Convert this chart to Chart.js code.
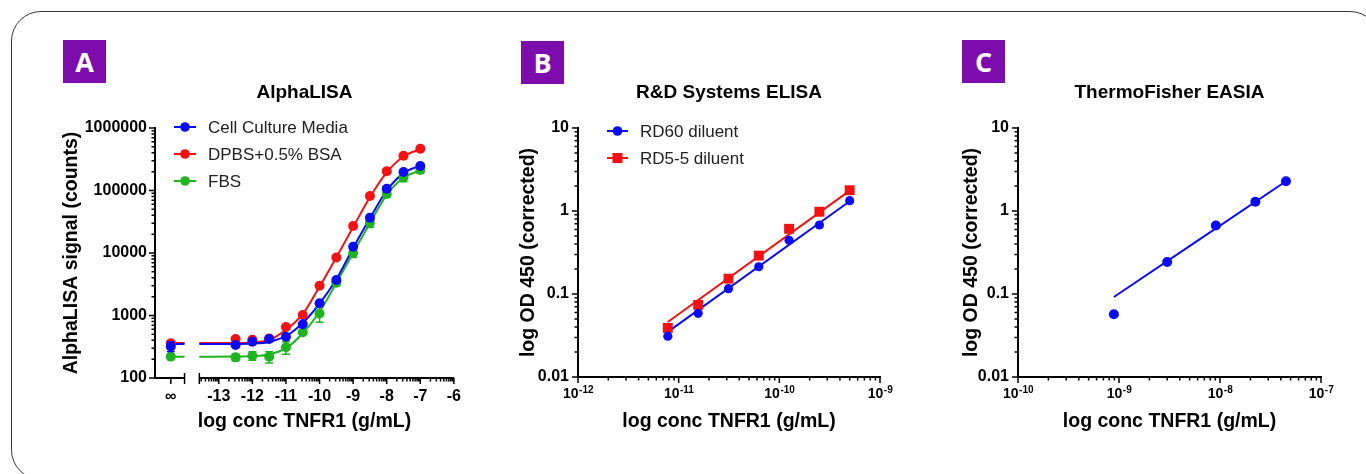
<!DOCTYPE html>
<html>
<head>
<meta charset="utf-8">
<script src="https://cdn.jsdelivr.net/npm/chart.js@4.4.1/dist/chart.umd.min.js"></script>
<style>
    body { margin: 0; width: 1366px; height: 474px; background: #fff; position: relative; overflow: hidden; }
    .frame { position: absolute; left: 11px; top: 11px; width: 1369px; height: 469px; border: 1.5px solid #3a3a3a; border-radius: 30px; box-sizing: border-box; }
    .tag { position: absolute; width: 43px; height: 43px; background: #7d0cac; color: #fff; font: 700 27px 'Open Sans', sans-serif; text-align: center; line-height: 43px; }
    .panel { position: absolute; top: 60px; }
</style>
</head>
<body>
<div class="frame"></div>
<div class="tag" style="left:63px;top:40px">A</div>
<div class="tag" style="left:521px;top:41px">B</div>
<div class="tag" style="left:962px;top:40px">C</div>
<canvas id="chartA" class="panel" style="left:30px" width="440" height="400"></canvas>
<canvas id="chartB" class="panel" style="left:470px" width="440" height="400"></canvas>
<canvas id="chartC" class="panel" style="left:910px" width="440" height="400"></canvas>

<script>
// ---- panel A: AlphaLISA (x = log conc, "∞" column = zero)
const INF_X = -14.43;
const concA = [-12.5, -12, -11.5, -11, -10.5, -10, -9.5, -9, -8.5, -8, -7.5, -7];
const mediaA = [337, 380, 420, 458, 723, 1570, 3700, 12600, 36700, 107000, 198000, 246000];
const bsaA = [421, 410, 430, 655, 1020, 3000, 8500, 27000, 81600, 203000, 360000, 467000];
const fbsA = [214, 227, 219, 310, 540, 1080, 3350, 10000, 30500, 88000, 163000, 213000];
const fbsErrA = [25, 35, 45, 70, 40, 300, 250, 1500, 5000, 10000, 25000, 25000];
const zeroMediaA = 320, zeroMediaErrA = 55;
const zeroBsaA = 360;
const zeroFbsA = 220, zeroFbsErrA = 10;
// fitted curves
const fitXA = [-13.58, -12.5, -12, -11.5, -11, -10.5, -10, -9.5, -9, -8.5, -8, -7.5, -7];
const mediaFitA = [350, 351, 356, 378, 470, 760, 1550, 3800, 12000, 36000, 100000, 190000, 250000];
const bsaFitA = [363, 364, 370, 405, 590, 1050, 2900, 8500, 26000, 78000, 195000, 350000, 460000];
const fbsFitA = [219, 220, 224, 238, 300, 520, 1150, 3300, 10000, 30000, 85000, 160000, 210000];
const infLineEndA = -14.02;
const yTicksA = [100, 1000, 10000, 100000, 1000000];
const xTicksA = [-13, -12, -11, -10, -9, -8, -7, -6];

// ---- panel B: R&D Systems ELISA
const concB = [7.8e-12, 1.5625e-11, 3.125e-11, 6.25e-11, 1.25e-10, 2.5e-10, 5e-10];
const rd60B = [0.031, 0.0585, 0.116, 0.213, 0.444, 0.678, 1.33];
const rd55B = [0.039, 0.074, 0.153, 0.29, 0.61, 0.98, 1.78];
const fitXB = [7.8e-12, 5e-10];
const rd60FitB = [0.035, 1.31];
const rd55FitB = [0.046, 1.76];
const xTicksB = [1e-12, 1e-11, 1e-10, 1e-9];

// ---- panel C: ThermoFisher EASIA
const concC = [8.9e-10, 3.0e-9, 9.1e-9, 2.24e-8, 4.5e-8];
const odC = [0.057, 0.243, 0.67, 1.29, 2.28];
const fitXC = [8.9e-10, 4.5e-8];
const odFitC = [0.092, 2.28];
const xTicksC = [1e-10, 1e-9, 1e-8, 1e-7];

const yTicksBC = [0.01, 0.1, 1, 10];

const BLUE = '#0b0bf5';
const RED = '#f51111';
const GREEN = '#1fb41f';
const FONT = "'Liberation Sans', Arial, sans-serif";
Chart.defaults.font.family = FONT;
Chart.defaults.color = '#000';

const pts = (xs, ys) => xs.map((x, i) => ({ x: x, y: ys[i] }));

function logSteps(min, max) {
    const out = [];
    for (let e = Math.floor(Math.log10(min)); e <= Math.ceil(Math.log10(max)); e++) {
        for (let k = 1; k <= 9; k++) {
            const v = k * Math.pow(10, e);
            if (v >= min * 0.999 && v <= max * 1.001) out.push({ v: v, major: k === 1 });
        }
    }
    return out;
}

// tick marks, broken x axis of A, and 10^n labels of B/C
const prismAxes = {
    id: 'prismAxes',
    afterDraw(chart, args, o) {
        const { ctx, chartArea: a } = chart;
        const x = chart.scales.x, y = chart.scales.y;
        ctx.save();
        ctx.strokeStyle = '#000';
        ctx.lineWidth = 1.5;
        ctx.beginPath();
        logSteps(y.min, y.max).forEach(t => {
            const py = y.getPixelForValue(t.v);
            ctx.moveTo(a.left, py);
            ctx.lineTo(a.left - (t.major ? 6 : 3.5), py);
        });
        if (o.broken) {
            const b = a.bottom;
            const g1 = x.getPixelForValue(o.broken[0]);
            const g2 = x.getPixelForValue(o.broken[1]);
            const pInf = x.getPixelForValue(INF_X);
            ctx.moveTo(pInf, b); ctx.lineTo(pInf, b + 6);
            ctx.moveTo(g1, b - 5); ctx.lineTo(g1, b + 6);
            ctx.moveTo(g2, b - 5); ctx.lineTo(g2, b + 6);
            for (let n = Math.floor(o.broken[1]); n < x.max; n++) {
                for (let k = 1; k <= 9; k++) {
                    const v = n + Math.log10(k);
                    if (v < o.broken[1] || v > x.max) continue;
                    const px = x.getPixelForValue(v);
                    ctx.moveTo(px, b); ctx.lineTo(px, b + (k === 1 ? 6 : 3.5));
                }
            }
            ctx.moveTo(x.getPixelForValue(x.max), b); ctx.lineTo(x.getPixelForValue(x.max), b + 6);
            ctx.stroke();
            ctx.lineWidth = 2;
            ctx.beginPath();
            ctx.moveTo(a.left - 1, b); ctx.lineTo(g1, b);
            ctx.moveTo(g2, b); ctx.lineTo(a.right, b);
        } else {
            logSteps(x.min, x.max).forEach(t => {
                const px = x.getPixelForValue(t.v);
                ctx.moveTo(px, a.bottom);
                ctx.lineTo(px, a.bottom + (t.major ? 6 : 3.5));
            });
        }
        ctx.stroke();
        if (o.powerLabels) {
            ctx.fillStyle = '#000';
            ctx.textBaseline = 'alphabetic';
            x.ticks.forEach(t => {
                const base = '10', sup = String(Math.round(Math.log10(t.value)));
                ctx.font = 'bold 14px ' + FONT;
                const wb = ctx.measureText(base).width;
                ctx.font = 'bold 10px ' + FONT;
                const ws = ctx.measureText(sup).width;
                const left = x.getPixelForValue(t.value) - (wb + ws) / 2;
                ctx.font = 'bold 14px ' + FONT;
                ctx.fillText(base, left, a.bottom + 21);
                ctx.font = 'bold 10px ' + FONT;
                ctx.fillText(sup, left + wb + 0.5, a.bottom + 16);
            });
        }
        ctx.restore();
    }
};

// vertical error bars, drawn just under their own markers
const errorBars = {
    id: 'errorBars',
    beforeDatasetDraw(chart, args) {
        const ds = chart.data.datasets[args.index];
        if (!ds.errors) return;
        const { ctx } = chart;
        const y = chart.scales.y;
        ctx.save();
        ctx.strokeStyle = ds.borderColor;
        ctx.lineWidth = 1.5;
        ctx.beginPath();
        args.meta.data.forEach((el, i) => {
            const e = ds.errors[i];
            if (!e) return;
            const v = ds.data[i].y;
            const top = y.getPixelForValue(v + e);
            const bot = y.getPixelForValue(Math.max(v - e, y.min));
            ctx.moveTo(el.x, top); ctx.lineTo(el.x, bot);
            ctx.moveTo(el.x - 4, top); ctx.lineTo(el.x + 4, top);
            ctx.moveTo(el.x - 4, bot); ctx.lineTo(el.x + 4, bot);
        });
        ctx.stroke();
        ctx.restore();
    }
};

// legend inside the plot: short line with the marker in its middle
const prismLegend = {
    id: 'prismLegend',
    afterDraw(chart, args, o) {
        if (!o.items) return;
        const { ctx, chartArea: a } = chart;
        ctx.save();
        o.items.forEach((it, i) => {
            const cy = a.top + o.y0 + i * o.dy;
            const x0 = a.left + o.x0, x1 = a.left + o.x1, cx = (x0 + x1) / 2;
            ctx.strokeStyle = it.color;
            ctx.fillStyle = it.color;
            ctx.lineWidth = 2;
            ctx.beginPath();
            ctx.moveTo(x0, cy); ctx.lineTo(x1, cy);
            ctx.stroke();
            ctx.beginPath();
            if (it.square) ctx.rect(cx - 5, cy - 5, 10, 10);
            else ctx.arc(cx, cy, 4.8, 0, Math.PI * 2);
            ctx.fill();
            ctx.fillStyle = '#222';
            ctx.font = '17px ' + FONT;
            ctx.textBaseline = 'middle';
            ctx.fillText(it.label, a.left + o.tx, cy + 1);
        });
        ctx.restore();
    }
};

function markers(data, color, extra) {
    return Object.assign({
        data: data, showLine: false, borderColor: color, backgroundColor: color,
        pointRadius: 5, pointBorderWidth: 0, pointStyle: 'circle'
    }, extra || {});
}

function curve(data, color, tension) {
    return {
        data: data, showLine: true, borderColor: color, borderWidth: 2,
        pointRadius: 0, tension: tension || 0, cubicInterpolationMode: 'monotone'
    };
}

function baseOptions(cfg) {
    return {
        responsive: false,
        animation: false,
        layout: { padding: { left: 0, right: cfg.padRight, top: 0, bottom: 0 } },
        plugins: {
            legend: { display: false },
            tooltip: { enabled: false },
            title: {
                display: true, text: cfg.title, fullSize: false, color: '#000',
                font: { size: 19, weight: 'bold' }, padding: { top: 21.6, bottom: 23.6 }
            },
            prismAxes: cfg.axes,
            prismLegend: cfg.legend || {}
        },
        scales: {
            x: Object.assign({
                grid: { display: false, drawTicks: false },
                title: {
                    display: true, text: 'log conc TNFR1 (g/mL)', color: '#000',
                    font: { size: 19.5, weight: 'bold' }, padding: { top: 0, bottom: 26.6 }
                },
                afterFit: s => { s.height = cfg.xHeight; }
            }, cfg.x),
            y: {
                type: 'logarithmic', min: cfg.yTicks[0], max: cfg.yTicks[cfg.yTicks.length - 1],
                grid: { display: false, drawTicks: false },
                border: { display: true, color: '#000', width: 2 },
                afterBuildTicks: s => { s.ticks = cfg.yTicks.map(v => ({ value: v })); },
                ticks: {
                    autoSkip: false, padding: cfg.yPad, color: '#000',
                    font: { size: 16, weight: 'bold' },
                    callback: v => String(v)
                },
                title: {
                    display: true, text: cfg.yTitle, color: '#000',
                    font: { size: 19.5, weight: 'bold' }, padding: { top: cfg.yTitlePad, bottom: 0 }
                },
                afterFit: s => { s.width = cfg.yWidth; }
            }
        }
    };
}

// ---------- A
new Chart(document.getElementById('chartA'), {
    type: 'scatter',
    data: {
        datasets: [
            markers(pts([INF_X].concat(concA), [zeroMediaA].concat(mediaA)), BLUE,
                { errors: [zeroMediaErrA] }),
            markers(pts([INF_X].concat(concA), [zeroBsaA].concat(bsaA)), RED),
            markers(pts([INF_X].concat(concA), [zeroFbsA].concat(fbsA)), GREEN,
                { errors: [zeroFbsErrA].concat(fbsErrA) }),
            curve(pts(fitXA, mediaFitA), BLUE),
            curve(pts(fitXA, bsaFitA), RED),
            curve(pts(fitXA, fbsFitA), GREEN),
            curve(pts([INF_X, infLineEndA], [mediaFitA[0], mediaFitA[0]]), BLUE),
            curve(pts([INF_X, infLineEndA], [bsaFitA[0], bsaFitA[0]]), RED),
            curve(pts([INF_X, infLineEndA], [fbsFitA[0], fbsFitA[0]]), GREEN)
        ]
    },
    options: baseOptions({
        title: 'AlphaLISA', padRight: 12, xHeight: 82, yWidth: 125, yPad: 8, yTitlePad: 29.6,
        yTitle: 'AlphaLISA signal (counts)', yTicks: yTicksA,
        axes: { broken: [infLineEndA, -13.58] },
        legend: {
            x0: 19, x1: 41, tx: 53, y0: -1, dy: 27,
            items: [
                { label: 'Cell Culture Media', color: BLUE },
                { label: 'DPBS+0.5% BSA', color: RED },
                { label: 'FBS', color: GREEN }
            ]
        },
        x: {
            type: 'linear', min: -14.9, max: -6,
            border: { display: false },
            afterBuildTicks: s => { s.ticks = [INF_X].concat(xTicksA).map(v => ({ value: v })); },
            ticks: {
                autoSkip: false, maxRotation: 0, padding: 9, color: '#000',
                font: { size: 16, weight: 'bold' },
                callback: v => (v === INF_X ? '\u221E' : String(v))
            }
        }
    }),
    plugins: [prismAxes, errorBars, prismLegend]
});

// ---------- B
new Chart(document.getElementById('chartB'), {
    type: 'scatter',
    data: {
        datasets: [
            markers(pts(concB, rd60B), BLUE, { pointRadius: 4.6 }),
            markers(pts(concB, rd55B), RED, { pointStyle: 'rect', pointRadius: 7 }),
            curve(pts(fitXB, rd60FitB), BLUE),
            curve(pts(fitXB, rd55FitB), RED)
        ]
    },
    options: baseOptions({
        title: 'R&D Systems ELISA', padRight: 30, xHeight: 83, yWidth: 108, yPad: 9, yTitlePad: 46.6,
        yTitle: 'log OD 450 (corrected)', yTicks: yTicksBC,
        axes: { powerLabels: true },
        legend: {
            x0: 29, x1: 50, tx: 62, y0: 3, dy: 27,
            items: [
                { label: 'RD60 diluent', color: BLUE },
                { label: 'RD5-5 diluent', color: RED, square: true }
            ]
        },
        x: {
            type: 'logarithmic', min: xTicksB[0], max: xTicksB[xTicksB.length - 1],
            border: { display: true, color: '#000', width: 2 },
            afterBuildTicks: s => { s.ticks = xTicksB.map(v => ({ value: v })); },
            ticks: { display: false }
        }
    }),
    plugins: [prismAxes, prismLegend]
});

// ---------- C
new Chart(document.getElementById('chartC'), {
    type: 'scatter',
    data: {
        datasets: [
            markers(pts(concC, odC), BLUE),
            curve(pts(fitXC, odFitC), BLUE)
        ]
    },
    options: baseOptions({
        title: 'ThermoFisher EASIA', padRight: 29, xHeight: 83, yWidth: 108, yPad: 9, yTitlePad: 50,
        yTitle: 'log OD 450 (corrected)', yTicks: yTicksBC,
        axes: { powerLabels: true },
        x: {
            type: 'logarithmic', min: xTicksC[0], max: xTicksC[xTicksC.length - 1],
            border: { display: true, color: '#000', width: 2 },
            afterBuildTicks: s => { s.ticks = xTicksC.map(v => ({ value: v })); },
            ticks: { display: false }
        }
    }),
    plugins: [prismAxes, prismLegend]
});
</script>
</body>
</html>
